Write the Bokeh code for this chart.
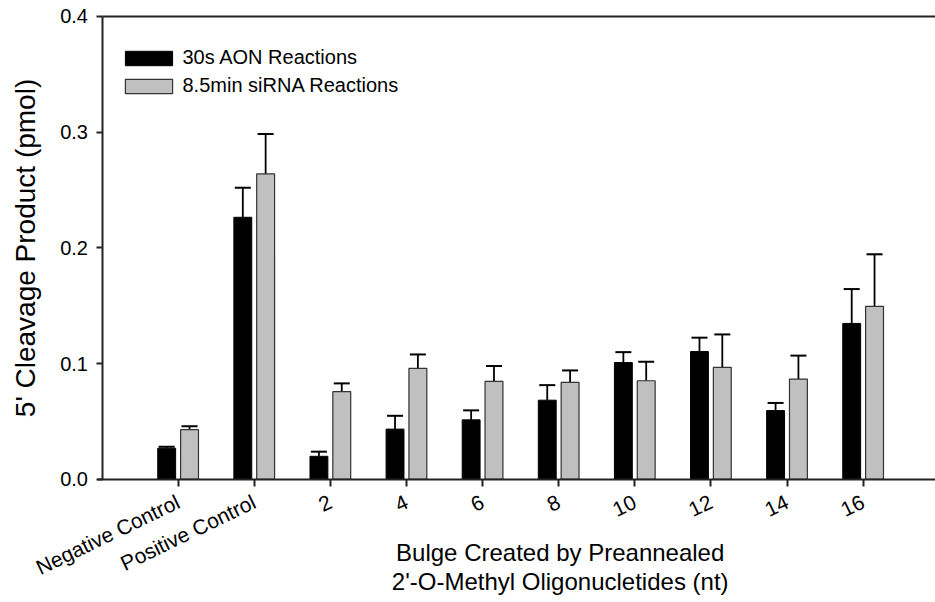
import math
from bokeh.plotting import figure
from bokeh.models import (ColumnDataSource, Whisker, TeeHead, FixedTicker, Label, LinearAxis,
                          Legend, LegendItem, PrintfTickFormatter)
from bokeh.embed import file_html
from bokeh.resources import INLINE

# ---- data ----
categories = ["Negative Control", "Positive Control", "2", "4", "6", "8", "10", "12", "14", "16"]
aon_mean = [0.027, 0.2265, 0.020, 0.0435, 0.0515, 0.0685, 0.101, 0.1105, 0.0595, 0.1348]
aon_err = [0.0012, 0.0255, 0.004, 0.0115, 0.0082, 0.013, 0.009, 0.012, 0.0066, 0.0297]
sirna_mean = [0.043, 0.264, 0.0758, 0.096, 0.0847, 0.0838, 0.0853, 0.0968, 0.0867, 0.1495]
sirna_err = [0.003, 0.0345, 0.0072, 0.012, 0.0133, 0.0104, 0.0164, 0.0285, 0.0203, 0.045]
y_ticks = [0.0, 0.1, 0.2, 0.3, 0.4]
series_names = ["30s AON Reactions", "8.5min siRNA Reactions"]
x_title_lines = ["Bulge Created by Preannealed", "2'-O-Methyl Oligonucletides (nt)"]
y_title = "5' Cleavage Product (pmol)"

FONT = "Liberation Sans"
pos = list(range(1, len(categories) + 1))
off = 0.15
bw = 0.235
y_top = 0.4
# visible window; the axes are drawn at x = 0 and y = 0 inside it so the
# rotated category labels, tick labels and titles have room around the bars
x_lo, x_hi = -1.3336, 10.951
y_lo, y_hi = -0.1063, 0.4138

src = ColumnDataSource(dict(
    xa=[x - off for x in pos],
    xs=[x + off for x in pos],
    aon=aon_mean,
    aon_hi=[m + e for m, e in zip(aon_mean, aon_err)],
    sir=sirna_mean,
    sir_hi=[m + e for m, e in zip(sirna_mean, sirna_err)],
))

p = figure(width=935, height=602, x_range=(x_lo, x_hi), y_range=(y_lo, y_hi),
           output_backend="svg", toolbar_location=None,
           min_border_left=0, min_border_right=0, min_border_top=0, min_border_bottom=0)
p.outline_line_color = None
p.grid.visible = False
p.background_fill_color = "white"
p.border_fill_color = "white"

# error bars (upper only)
for base, lo, hi in (("xa", "aon", "aon_hi"), ("xs", "sir", "sir_hi")):
    w = Whisker(base=base, lower=lo, upper=hi, source=src, lower_head=None,
                upper_head=TeeHead(size=16, line_width=2, line_color="black"),
                line_width=1.8, line_color="black")
    p.add_layout(w)

r1 = p.vbar(x="xa", top="aon", bottom=0, width=bw, source=src,
            fill_color="black", line_color="black", line_width=1)
r2 = p.vbar(x="xs", top="sir", bottom=0, width=bw, source=src,
            fill_color="#c0c0c0", line_color="#333333", line_width=1.2)

AX = "#222222"

# x axis, drawn at y = 0
xa = p.xaxis[0]
xa.fixed_location = 0
xa.bounds = (-0.06, x_hi)
xa.ticker = FixedTicker(ticks=pos)
xa.major_label_overrides = {x: c for x, c in zip(pos, categories)}
xa.major_label_orientation = 0.45
xa.major_label_text_font = FONT
xa.major_label_text_font_size = "21px"
xa.major_label_text_color = "black"
xa.major_label_standoff = 14
xa.major_tick_in = 0
xa.major_tick_out = 7
xa.minor_tick_line_color = None
xa.axis_line_width = 2
xa.major_tick_line_width = 2
xa.axis_line_color = AX
xa.major_tick_line_color = AX

# y axis, drawn at x = 0
ya = p.yaxis[0]
ya.fixed_location = 0
ya.bounds = (0, y_top)
ya.ticker = FixedTicker(ticks=y_ticks)
ya.formatter = PrintfTickFormatter(format="%.1f")
ya.major_label_text_font = FONT
ya.major_label_text_font_size = "20px"
ya.major_label_text_color = "black"
ya.major_label_standoff = 8
ya.major_tick_in = 0
ya.major_tick_out = 6
ya.minor_tick_line_color = None
ya.axis_line_width = 2
ya.major_tick_line_width = 2
ya.axis_line_color = AX
ya.major_tick_line_color = AX

# top frame line (plain axis without ticks at the top value)
top = LinearAxis(fixed_location=y_top, bounds=(0, x_hi), ticker=FixedTicker(ticks=[]),
                 major_tick_line_color=None, minor_tick_line_color=None,
                 major_label_text_font_size="0px", axis_line_width=2, axis_line_color=AX)
p.add_layout(top, "above")

# y axis title
p.add_layout(Label(x=-1.005, y=y_top / 2, x_units="data", y_units="data", text=y_title,
                   angle=math.pi / 2, text_align="center", text_baseline="middle",
                   text_font=FONT, text_font_size="28px", text_color="black"))

# x axis title (two centred lines, placed as in the reference)
for i, line in enumerate(x_title_lines):
    p.add_layout(Label(x=6.02, y=-0.0631 - 0.025 * i, x_units="data", y_units="data",
                       text=line, text_align="center", text_baseline="middle",
                       text_font=FONT, text_font_size="24px", text_color="black"))

legend = Legend(items=[LegendItem(label=series_names[0], renderers=[r1]),
                       LegendItem(label=series_names[1], renderers=[r2])],
                location=(118.5, 505), padding=0, margin=0, spacing=5,
                glyph_width=59, glyph_height=18, label_height=18, label_standoff=5,
                label_text_font=FONT, label_text_font_size="20px", label_text_color="black",
                border_line_color=None, background_fill_alpha=0)
p.add_layout(legend)

open("out.html", "w").write(file_html(p, INLINE))
